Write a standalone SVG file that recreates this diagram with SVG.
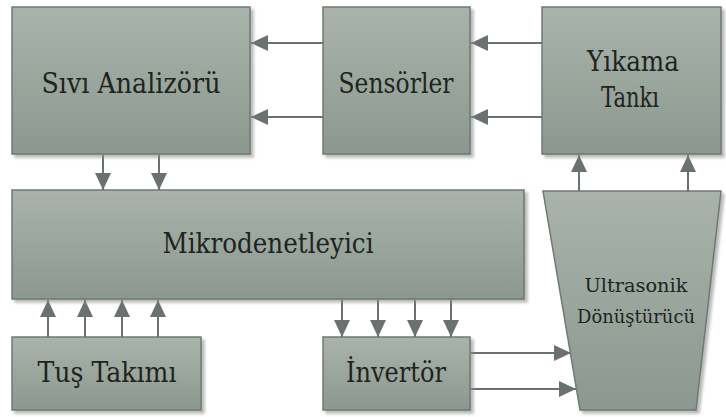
<svg xmlns="http://www.w3.org/2000/svg" width="726" height="417" viewBox="0 0 726 417">
  <defs>
    <linearGradient id="g" x1="0" y1="0" x2="0" y2="1">
      <stop offset="0" stop-color="#a9b3ab"/>
      <stop offset="1" stop-color="#8c988f"/>
    </linearGradient>
    <filter id="sh" x="-10%" y="-10%" width="120%" height="130%">
      <feDropShadow dx="3" dy="3" stdDeviation="1.5" flood-color="#8a8a8a" flood-opacity="0.6"/>
    </filter>
    <marker id="ah" markerUnits="userSpaceOnUse" markerWidth="18" markerHeight="16" refX="17" refY="8" orient="auto">
      <path d="M0,0 L17,8 L0,16 Z" fill="#6b716e"/>
    </marker>
  </defs>
  <style>
    .box { fill: url(#g); stroke: #6e7a72; stroke-width: 1.5; filter: url(#sh); }
    .t { font-family: "DejaVu Serif", serif; font-size: 27px; fill: #1e2420; text-anchor: middle; }
    .s { font-size: 19px; }
    .c { stroke: #6b716e; stroke-width: 2; fill: none; marker-end: url(#ah); }
  </style>
  <rect width="726" height="417" fill="#ffffff"/>

  <g id="connectors">
    <line class="c" x1="323" y1="43" x2="251" y2="43"/>
    <line class="c" x1="323" y1="117" x2="251" y2="117"/>
    <line class="c" x1="542" y1="43" x2="471" y2="43"/>
    <line class="c" x1="542" y1="117" x2="471" y2="117"/>
    <line class="c" x1="103" y1="155" x2="103" y2="190"/>
    <line class="c" x1="159" y1="155" x2="159" y2="190"/>
    <line class="c" x1="579" y1="191" x2="579" y2="155"/>
    <line class="c" x1="688" y1="191" x2="688" y2="155"/>
    <line class="c" x1="48" y1="337" x2="48" y2="300"/>
    <line class="c" x1="85" y1="337" x2="85" y2="300"/>
    <line class="c" x1="122" y1="337" x2="122" y2="300"/>
    <line class="c" x1="158" y1="337" x2="158" y2="300"/>
    <line class="c" x1="342" y1="300" x2="342" y2="337"/>
    <line class="c" x1="378" y1="300" x2="378" y2="337"/>
    <line class="c" x1="415" y1="300" x2="415" y2="337"/>
    <line class="c" x1="451" y1="300" x2="451" y2="337"/>
    <line class="c" x1="471" y1="353" x2="571" y2="353"/>
    <line class="c" x1="471" y1="389" x2="576" y2="389"/>
  </g>

  <g id="sivi-analizoru">
    <rect class="box" x="12" y="7" width="238" height="147"/>
    <text class="t" x="131" y="93" textLength="179" lengthAdjust="spacingAndGlyphs">Sıvı Analizörü</text>
  </g>
  <g id="sensorler">
    <rect class="box" x="323" y="7" width="147" height="147"/>
    <text class="t" x="396" y="93" textLength="115" lengthAdjust="spacingAndGlyphs">Sensörler</text>
  </g>
  <g id="yikama-tanki">
    <rect class="box" x="542" y="7" width="179" height="147"/>
    <text class="t" x="633" y="71" textLength="92" lengthAdjust="spacingAndGlyphs">Yıkama</text>
    <text class="t" x="630" y="107" textLength="58" lengthAdjust="spacingAndGlyphs">Tankı</text>
  </g>
  <g id="mikrodenetleyici">
    <rect class="box" x="12" y="190" width="512" height="109"/>
    <text class="t" x="268" y="253" textLength="211" lengthAdjust="spacingAndGlyphs">Mikrodenetleyici</text>
  </g>
  <g id="ultrasonik">
    <path class="box" d="M543,191 L721,191 L696,410 L580,410 Z"/>
    <text class="t s" x="636" y="292" textLength="103" lengthAdjust="spacingAndGlyphs">Ultrasonik</text>
    <text class="t s" x="636" y="323" textLength="118" lengthAdjust="spacingAndGlyphs">Dönüştürücü</text>
  </g>
  <g id="tus-takimi">
    <rect class="box" x="12" y="337" width="189" height="73"/>
    <text class="t" x="107" y="382" textLength="139" lengthAdjust="spacingAndGlyphs">Tuş Takımı</text>
  </g>
  <g id="invertor">
    <rect class="box" x="323" y="337" width="147" height="73"/>
    <text class="t" x="396" y="382" textLength="100" lengthAdjust="spacingAndGlyphs">İnvertör</text>
  </g>
</svg>
